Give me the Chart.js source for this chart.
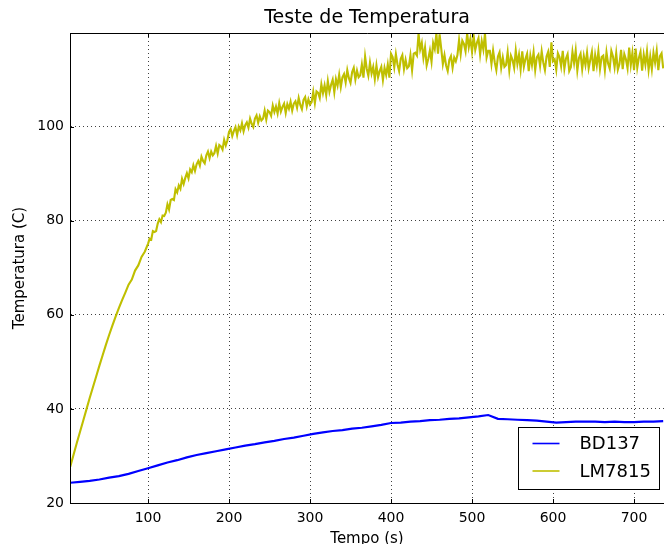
<!DOCTYPE html>
<html>
<head>
<meta charset="utf-8">
<title>Teste de Temperatura</title>
<script src="https://cdn.jsdelivr.net/npm/chart.js@4.4.1/dist/chart.umd.min.js"></script>
<style>
  html, body { margin: 0; padding: 0; background: #fff; }
  canvas { display: block; }
</style>
</head>
<body>
<canvas id="tempChart" width="664" height="544"></canvas>
<script>
// BD137 heatsink readings (s, °C)
const bdTime = [
  4, 16, 28, 40, 52, 64, 76, 88, 100, 112, 124, 136, 148, 160, 172, 184,
  196, 208, 220, 232, 244, 256, 268, 280, 292, 304, 316, 328, 340, 352, 364, 376,
  388, 400, 412, 424, 436, 448, 460, 472, 484, 496, 508, 520, 532, 544, 556, 568,
  580, 592, 604, 616, 628, 640, 652, 664, 676, 688, 700, 712, 724, 736
];
const bdTemp = [
  24.3, 24.5, 24.7, 25.0, 25.4, 25.7, 26.2, 26.8, 27.4, 28.0, 28.6, 29.1, 29.7, 30.2, 30.6, 31.0,
  31.4, 31.8, 32.2, 32.5, 32.9, 33.2, 33.6, 33.9, 34.3, 34.7, 35.0, 35.3, 35.5, 35.8, 36.0, 36.3,
  36.6, 37.0, 37.1, 37.3, 37.4, 37.6, 37.7, 37.9, 38.0, 38.2, 38.4, 38.7, 37.9, 37.8, 37.7, 37.6,
  37.5, 37.3, 37.1, 37.2, 37.3, 37.3, 37.3, 37.2, 37.3, 37.2, 37.2, 37.3, 37.3, 37.4
];

// LM7815 regulator readings (s, °C): every 4 s during the ramp, every 2 s after
const lmTime = [
  4, 8, 12, 16, 20, 24, 28, 32, 36, 40, 44, 48, 52, 56, 60, 64, 68, 72, 76, 80, 84, 88, 92, 96, 100,
  102, 104, 106, 108, 110, 112, 114, 116, 118, 120, 122, 124, 126, 128, 130, 132, 134, 136, 138, 140,
  142, 144, 146, 148, 150, 152, 154, 156, 158, 160, 162, 164, 166, 168, 170, 172, 174, 176, 178, 180,
  182, 184, 186, 188, 190, 192, 194, 196, 198, 200, 202, 204, 206, 208, 210, 212, 214, 216, 218, 220,
  222, 224, 226, 228, 230, 232, 234, 236, 238, 240, 242, 244, 246, 248, 250, 252, 254, 256, 258, 260,
  262, 264, 266, 268, 270, 272, 274, 276, 278, 280, 282, 284, 286, 288, 290, 292, 294, 296, 298, 300,
  302, 304, 306, 308, 310, 312, 314, 316, 318, 320, 322, 324, 326, 328, 330, 332, 334, 336, 338, 340,
  342, 344, 346, 348, 350, 352, 354, 356, 358, 360, 362, 364, 366, 368, 370, 372, 374, 376, 378, 380,
  382, 384, 386, 388, 390, 392, 394, 396, 398, 400, 402, 404, 406, 408, 410, 412, 414, 416, 418, 420,
  422, 424, 426, 428, 430, 432, 434, 436, 438, 440, 442, 444, 446, 448, 450, 452, 454, 456, 458, 460,
  462, 464, 466, 468, 470, 472, 474, 476, 478, 480, 482, 484, 486, 488, 490, 492, 494, 496, 498, 500,
  502, 504, 506, 508, 510, 512, 514, 516, 518, 520, 522, 524, 526, 528, 530, 532, 534, 536, 538, 540,
  542, 544, 546, 548, 550, 552, 554, 556, 558, 560, 562, 564, 566, 568, 570, 572, 574, 576, 578, 580,
  582, 584, 586, 588, 590, 592, 594, 596, 598, 600, 602, 604, 606, 608, 610, 612, 614, 616, 618, 620,
  622, 624, 626, 628, 630, 632, 634, 636, 638, 640, 642, 644, 646, 648, 650, 652, 654, 656, 658, 660,
  662, 664, 666, 668, 670, 672, 674, 676, 678, 680, 682, 684, 686, 688, 690, 692, 694, 696, 698, 700,
  702, 704, 706, 708, 710, 712, 714, 716, 718, 720, 722, 724, 726, 728, 730, 732, 734, 736
];
const lmTemp = [
  27.7, 30.2, 32.7, 35.1, 37.5, 39.9, 42.3, 44.6, 46.9, 49.2, 51.4, 53.6, 55.7, 57.7, 59.6, 61.4, 63.1, 64.7, 66.4, 67.5, 69.4, 70.5, 72.3, 73.4, 75.1,
  76.2, 76.0, 77.8, 77.6, 77.8, 79.4, 80.3, 79.7, 81.1, 81.0, 81.7, 83.5, 82.4, 84.4, 84.6, 84.4, 86.7, 86.0, 87.5, 86.8,
  88.9, 87.8, 89.1, 90.1, 89.0, 90.9, 90.3, 91.8, 90.6, 92.0, 92.7, 91.7, 93.6, 92.7, 92.2, 93.9, 94.7, 93.3, 94.7, 93.9,
  94.4, 95.9, 94.3, 96.1, 95.8, 95.1, 97.2, 96.0, 97.1, 98.9, 99.5, 98.0, 99.1, 99.9, 98.2, 100.0, 99.2, 100.7, 99.0, 100.3,
  100.9, 99.8, 101.7, 100.6, 99.9, 101.7, 102.4, 100.8, 102.2, 101.3, 101.7, 103.4, 101.5, 103.4, 103.1, 102.3, 104.5, 103.1, 104.3, 102.8,
  105.0, 103.2, 104.2, 104.9, 102.9, 104.8, 103.8, 105.3, 103.4, 104.9, 105.4, 104.0, 106.1, 104.6, 103.7, 105.7, 106.3, 104.3, 105.8, 104.7,
  105.2, 107.4, 105.0, 107.5, 107.2, 106.1, 109.0, 107.1, 108.8, 106.7, 109.7, 107.4, 108.9, 110.0, 107.3, 110.1, 108.7, 111.0, 108.4, 110.5,
  111.2, 109.4, 112.0, 110.3, 109.3, 111.6, 112.5, 110.0, 111.9, 110.5, 110.9, 113.2, 110.4, 114.9, 112.3, 110.8, 113.6, 111.3, 112.7, 110.1,
  113.0, 110.5, 111.8, 112.7, 109.9, 112.5, 111.0, 113.2, 110.4, 115.5, 114.8, 112.6, 115.4, 113.2, 111.8, 114.4, 115.2, 112.2, 114.2, 112.4,
  112.8, 115.2, 112.0, 115.5, 115.7, 115.1, 119.8, 116.4, 117.8, 114.6, 116.8, 113.0, 114.4, 116.2, 113.8, 117.8, 116.5, 119.8, 115.5, 119.6,
  116.6, 113.3, 115.2, 113.0, 111.8, 114.2, 115.0, 112.5, 114.7, 113.9, 115.2, 118.4, 115.4, 118.3, 117.6, 116.0, 119.8, 116.9, 118.7, 115.9,
  119.3, 116.3, 117.8, 118.8, 115.3, 118.2, 116.4, 119.8, 114.7, 116.1, 116.1, 113.3, 116.2, 113.7, 112.0, 114.9, 115.8, 112.5, 114.7, 112.7,
  113.1, 115.8, 112.0, 115.1, 114.2, 112.5, 116.2, 113.3, 115.3, 112.2, 116.0, 112.7, 114.4, 115.5, 111.8, 115.1, 113.1, 115.8, 112.0, 114.7,
  115.3, 112.9, 116.0, 113.6, 112.0, 114.9, 115.9, 112.7, 117.9, 113.9, 114.3, 112.1, 115.6, 114.8, 112.8, 116.1, 112.3, 114.5, 115.4, 111.8,
  112.6, 115.9, 113.5, 116.2, 111.9, 114.6, 115.5, 112.2, 115.0, 113.1, 115.7, 112.4, 114.2, 115.9, 111.8, 115.2, 113.0, 116.0, 112.3, 114.8,
  115.1, 112.0, 115.8, 113.4, 112.3, 116.1, 114.9, 112.6, 115.6, 112.1, 113.3, 116.3, 112.2, 115.4, 114.3, 112.4, 116.8, 113.1, 115.7, 112.0,
  116.6, 112.5, 114.6, 115.9, 111.9, 115.3, 113.2, 116.0, 112.1, 114.9, 112.2, 115.7, 113.6, 116.1, 112.0, 115.0, 115.6, 112.4
];

const yTicks = [20, 40, 60, 80, 100];

const toPoints = (xs, ys) => xs.map((x, i) => ({ x: x, y: ys[i] }));

Chart.defaults.font.family = "'DejaVu Sans', sans-serif";
Chart.defaults.color = '#000';

// spines and inward tick marks (matplotlib style)
const framePlugin = {
  id: 'frame',
  afterDatasetsDraw(chart) {
    const { ctx, chartArea: a, scales: { x, y } } = chart;
    ctx.save();
    ctx.strokeStyle = '#000';
    ctx.lineWidth = 1;
    ctx.beginPath();
    ctx.moveTo(a.left + 0.5, a.bottom + 0.5);
    ctx.lineTo(a.left + 0.5, a.top + 0.5);
    ctx.lineTo(a.right, a.top + 0.5);
    ctx.moveTo(a.left, a.bottom + 0.5);
    ctx.lineTo(a.right, a.bottom + 0.5);
    x.ticks.forEach(t => {
      const px = Math.round(x.getPixelForValue(t.value)) + 0.5;
      ctx.moveTo(px, a.bottom);
      ctx.lineTo(px, a.bottom - 4);
      ctx.moveTo(px, a.top);
      ctx.lineTo(px, a.top + 4);
    });
    y.ticks.forEach(t => {
      const py = Math.round(y.getPixelForValue(t.value)) + 0.5;
      ctx.moveTo(a.left, py);
      ctx.lineTo(a.left + 4, py);
    });
    ctx.stroke();
    ctx.restore();
  }
};

// boxed legend in the lower right corner of the plot
const boxLegend = {
  id: 'boxLegend',
  afterDraw(chart) {
    const { ctx, chartArea: a } = chart;
    const w = 141, h = 62;
    const bx = Math.round(a.right - 5 - w) + 0.5;
    const by = Math.round(a.bottom - 14 - h) + 0.5;
    ctx.save();
    ctx.fillStyle = '#fff';
    ctx.fillRect(bx, by, w, h);
    ctx.strokeStyle = '#000';
    ctx.lineWidth = 1;
    ctx.strokeRect(bx, by, w, h);
    ctx.font = "18px 'DejaVu Sans', sans-serif";
    ctx.textBaseline = 'middle';
    chart.data.datasets.forEach((ds, i) => {
      const ry = by + 16 + i * 27.5;
      ctx.strokeStyle = ds.borderColor;
      ctx.lineWidth = 1.6;
      ctx.beginPath();
      ctx.moveTo(bx + 14, ry);
      ctx.lineTo(bx + 41, ry);
      ctx.stroke();
      ctx.fillStyle = '#000';
      ctx.fillText(ds.label, bx + 61, ry + 1);
    });
    ctx.restore();
  }
};

new Chart(document.getElementById('tempChart'), {
  type: 'line',
  data: {
    datasets: [
      {
        label: 'BD137',
        data: toPoints(bdTime, bdTemp),
        borderColor: '#0000ff',
        borderWidth: 2.2,
        pointRadius: 0,
        tension: 0,
        order: 1
      },
      {
        label: 'LM7815',
        data: toPoints(lmTime, lmTemp),
        borderColor: '#bfbf00',
        borderWidth: 2.1,
        pointRadius: 0,
        tension: 0,
        order: 2
      }
    ]
  },
  options: {
    responsive: false,
    animation: false,
    devicePixelRatio: 1,
    layout: { padding: 0 },
    plugins: {
      legend: { display: false },
      tooltip: { enabled: false },
      title: {
        display: true,
        fullSize: false,
        text: 'Teste de Temperatura',
        color: '#000',
        font: { size: 19, weight: 'normal' },
        padding: { top: 7, bottom: 3.2 }
      }
    },
    scales: {
      x: {
        type: 'linear',
        min: 3.7,
        max: 737,
        afterFit(scale) { scale.height = 41; },
        ticks: {
          stepSize: 100,
          includeBounds: false,
          maxRotation: 0,
          padding: 7,
          color: '#000',
          font: { size: 14 }
        },
        grid: { color: 'rgba(0,0,0,0.75)', lineWidth: 1, drawTicks: false },
        border: { display: true, color: '#000', width: 1, dash: [1, 3] },
        title: {
          display: true,
          text: 'Tempo (s)',
          color: '#000',
          font: { size: 15 },
          padding: { top: 0, bottom: -4.5 }
        }
      },
      y: {
        min: 20,
        max: 119.9,
        afterFit(scale) { scale.width = 70; },
        afterBuildTicks(scale) { scale.ticks = yTicks.map(v => ({ value: v })); },
        ticks: {
          padding: 6,
          color: '#000',
          font: { size: 14 }
        },
        grid: { color: 'rgba(0,0,0,0.75)', lineWidth: 1, drawTicks: false },
        border: { display: true, color: '#000', width: 1, dash: [1, 3] },
        title: {
          display: true,
          text: 'Temperatura (C)',
          color: '#000',
          font: { size: 15 },
          padding: { top: 11, bottom: 0 }
        }
      }
    }
  },
  plugins: [framePlugin, boxLegend]
});
</script>
</body>
</html>
